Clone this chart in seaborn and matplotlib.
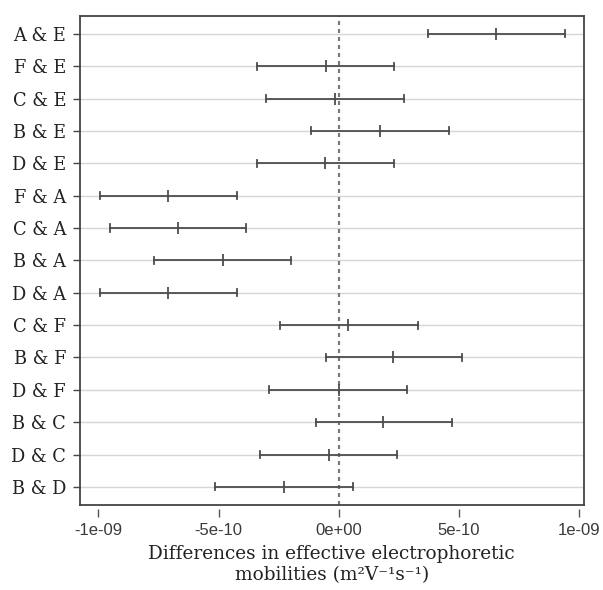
import numpy as np
import pandas as pd
import matplotlib
matplotlib.use("Agg")
import matplotlib.pyplot as plt
import seaborn as sns

# ---- data (units of 1e-9 m^2 V^-1 s^-1) ----
comparisons = ["A & E", "F & E", "C & E", "B & E", "D & E",
               "F & A", "C & A", "B & A", "D & A",
               "C & F", "B & F", "D & F",
               "B & C", "D & C", "B & D"]
diff_vals = [0.656, -0.051, -0.013, 0.173, -0.056,
             -0.710, -0.669, -0.483, -0.710,
             0.040, 0.226, 0.000,
             0.186, -0.038, -0.229]
lwr_vals = [0.372, -0.341, -0.301, -0.115, -0.341,
            -0.995, -0.954, -0.770, -0.995,
            -0.245, -0.054, -0.288,
            -0.096, -0.326, -0.514]
upr_vals = [0.944, 0.232, 0.271, 0.458, 0.232,
            -0.424, -0.384, -0.197, -0.424,
            0.331, 0.516, 0.285,
            0.472, 0.245, 0.058]
scale = 1e-9
x_ticks = [-1e-9, -5e-10, 0.0, 5e-10, 1e-9]
x_tick_labels = ["-1e-09", "-5e-10", "0e+00", "5e-10", "1e-09"]
x_label = "Differences in effective electrophoretic\nmobilities (m\u00b2V\u207b\u00b9s\u207b\u00b9)"

# long-form table: three values per comparison; median = estimate, min/max = interval
long_df = pd.DataFrame({
    "comparison": np.repeat(comparisons, 3),
    "value": np.column_stack([lwr_vals, diff_vals, upr_vals]).ravel() * scale,
})

fig = plt.figure(figsize=(6.03, 5.90), dpi=100)
ax = fig.add_axes([80 / 603, 1 - 505 / 590, (583.5 - 80) / 603, (505 - 15.7) / 590])

bar_color = "#4d4d4d"
sns.pointplot(data=long_df, x="value", y="comparison", orient="h",
              order=comparisons, estimator="median", errorbar=("pi", 100),
              capsize=0.22, color=bar_color, linestyle="none",
              marker="|", markersize=8, markeredgewidth=1.3,
              err_kws={"linewidth": 1.3}, ax=ax)

n = len(comparisons)
ax.set_ylim(n - 1 + 0.56, -0.56)
ax.set_xlim(-1.077e-9, 1.02e-9)

ax.set_axisbelow(True)
ax.yaxis.grid(True, color="#d6d6d6", linewidth=1.0)
ax.xaxis.grid(False)
ax.axvline(0, color="#7a7a7a", linewidth=1.6, dashes=(1.8, 1.8), zorder=1.5)

for sp in ax.spines.values():
    sp.set_color("#444444")
    sp.set_linewidth(1.3)

serif = ["DejaVu Serif"]
ax.set_ylabel("")
ax.set_xlabel("")
ax.tick_params(axis="y", length=5, width=1.0, color="#444444", pad=5,
               labelsize=12.8, labelcolor="#222222")
for lab in ax.get_yticklabels():
    lab.set_fontfamily(serif)
ax.tick_params(axis="x", length=0, labelbottom=False)

sec = ax.secondary_xaxis(-4 / 490)
sec.spines["bottom"].set_visible(False)
sec.set_xticks(x_ticks)
sec.set_xticklabels(x_tick_labels, fontfamily="Liberation Sans", fontsize=12,
                    color="#3a3a3a")
sec.tick_params(axis="x", length=6, width=1.0, color="#555555", pad=4)
sec.set_xlabel(x_label, fontfamily=serif,
               fontsize=13.3, color="#222222", labelpad=5, linespacing=1.2)

fig.savefig("out.png", dpi=100, facecolor="white")
